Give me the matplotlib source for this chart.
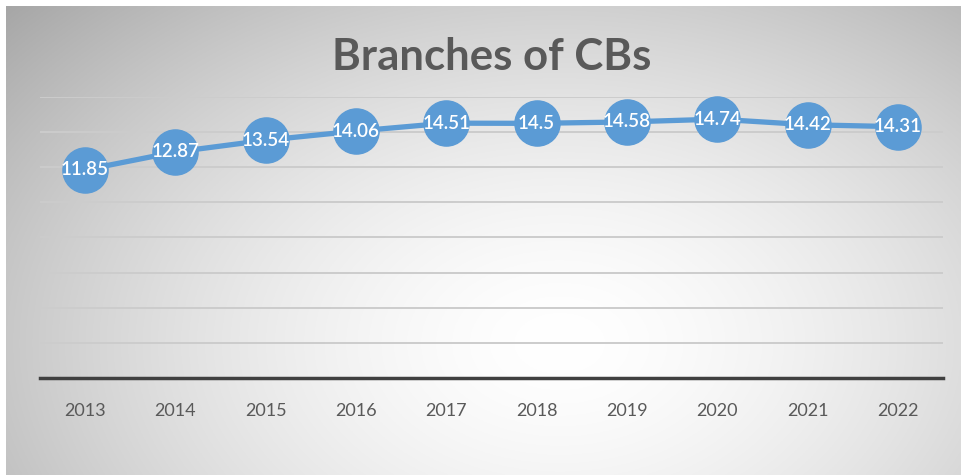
import numpy as np
import matplotlib.pyplot as plt

years = ['2013', '2014', '2015', '2016', '2017', '2018', '2019', '2020', '2021', '2022']
branches = [11.85, 12.87, 13.54, 14.06, 14.51, 14.5, 14.58, 14.74, 14.42, 14.31]
labels = ['11.85', '12.87', '13.54', '14.06', '14.51', '14.5', '14.58', '14.74', '14.42', '14.31']

W, H = 961, 475
fig = plt.figure(figsize=(W / 100, H / 100), dpi=100)
fig.patch.set_facecolor('white')
fnt = ['Lato', 'DejaVu Sans']

# radial gradient background for the chart box
bx0 = 6 / W
bg = fig.add_axes([bx0, 0.0, 1 - bx0, 1 - 6 / H], zorder=0)
yy, xx = np.mgrid[0:1:300j, 0:1:600j]
r = np.sqrt(((xx - 0.58) / 0.62) ** 2 + ((yy - 0.72) / 0.85) ** 2)
shade = 1 - 0.24 * np.clip(r, 0, 1.3) ** 1.6
bg.imshow(np.dstack([shade] * 3), extent=[0, 1, 0, 1], origin='upper', aspect='auto')
bg.set_axis_off()

ax = fig.add_axes([40 / W, (H - 378) / H, (943 - 40) / W, (378 - 97) / H], zorder=1)
ax.patch.set_alpha(0)
x = np.arange(len(years))
ax.plot(x, branches, color='#5B9BD5', lw=3.8, marker='o', markersize=32.5,
        markerfacecolor='#5B9BD5', markeredgecolor='#5B9BD5', zorder=3, clip_on=False)
for xi, v, t in zip(x, branches, labels):
    ax.text(xi, v, t, ha='center', va='center', color='white', fontsize=13.5,
            fontweight='semibold', family=fnt, zorder=4)

ax.set_xlim(-0.5, len(years) - 0.5)
ax.set_ylim(0, 16)
ax.set_yticks(np.arange(2, 17, 2))
ax.yaxis.grid(True, color='#cccccc', lw=1.4)
ax.tick_params(axis='y', left=False, labelleft=False)
ax.set_xticks(x)
ax.set_xticklabels(years, color='#595959', fontsize=13, family=fnt)
ax.tick_params(axis='x', length=0, pad=18)
for s in ['top', 'right', 'left']:
    ax.spines[s].set_visible(False)
ax.spines['bottom'].set_color('#404040')
ax.spines['bottom'].set_linewidth(2.5)
ax.set_axisbelow(True)

fig.text(492 / W, 1 - 57 / H, 'Branches of CBs', ha='center', va='center',
         fontsize=31.5, fontweight='bold', color='#595959', family=fnt)

fig.savefig('out.png', dpi=100)
